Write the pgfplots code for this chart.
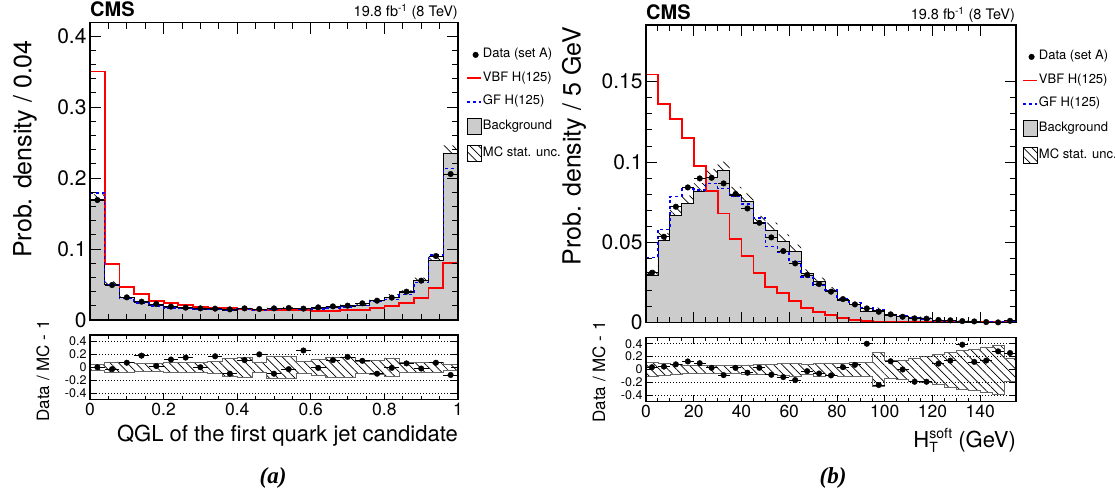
\documentclass[border=0pt]{standalone}
\usepackage{fontspec}
\setmainfont{TeX Gyre Heros}
\newfontfamily\capfont{Liberation Serif}
\usepackage{pgfplots}
\usepackage{pgfplotstable}
\pgfplotsset{compat=1.18}
\usepgfplotslibrary{fillbetween}
\usetikzlibrary{patterns.meta}
\newcommand\fs[1]{\fontsize{#1}{#1}\selectfont}

\pgfplotstableread{
lo bkg data vbf gf err r
0.00 0.170 0.169 0.350 0.179 0.04 0.00
0.04 0.0502 0.0493 0.0784 0.0502 0.084 -0.03
0.08 0.0315 0.0319 0.047 0.031 0.071 0.07
0.12 0.0244 0.0258 0.0362 0.0240 0.063 0.18
0.16 0.0207 0.0225 0.0272 0.0200 0.063 0.02
0.20 0.0178 0.0188 0.0235 0.0172 0.071 0.12
0.24 0.0164 0.0174 0.0207 0.0160 0.076 0.15
0.28 0.0150 0.0164 0.0178 0.0148 0.079 0.00
0.32 0.0150 0.0160 0.0174 0.0150 0.089 0.17
0.36 0.0141 0.0150 0.0164 0.0141 0.14 -0.10
0.40 0.0150 0.0164 0.0155 0.0155 0.15 0.11
0.44 0.0131 0.0155 0.0141 0.0136 0.084 0.20
0.48 0.0150 0.0164 0.0136 0.0150 0.17 -0.10
0.52 0.0155 0.0169 0.0141 0.0160 0.17 -0.03
0.56 0.0141 0.0160 0.0141 0.0150 0.092 0.26
0.60 0.0160 0.0178 0.0127 0.0155 0.13 -0.01
0.64 0.0174 0.0192 0.0131 0.0170 0.16 0.11
0.68 0.0188 0.0202 0.0141 0.0185 0.16 0.16
0.72 0.0211 0.0235 0.0141 0.0205 0.092 0.10
0.76 0.0282 0.0272 0.0174 0.0268 0.105 -0.10
0.80 0.0319 0.0315 0.0197 0.0290 0.145 -0.01
0.84 0.0385 0.0399 0.0235 0.0360 0.084 0.06
0.88 0.0554 0.0554 0.0305 0.0526 0.079 -0.02
0.92 0.0845 0.0901 0.0446 0.0915 0.071 0.07
0.96 0.235 0.2056 0.0808 0.2136 0.047 -0.12
1.00 0.235 0.2056 0.0808 0.2136 0.047 -0.12
}\tabA

\pgfplotstableread{
lo bkg data vbf gf err r
0 0.0297 0.0311 0.1545 0.0407 0.105 0.036
5 0.0512 0.0535 0.1359 0.0581 0.09 0.045
10 0.0670 0.0722 0.1270 0.0784 0.075 0.08
15 0.0743 0.0842 0.1151 0.0832 0.065 0.125
20 0.0819 0.0898 0.0977 0.0826 0.06 0.098
25 0.0904 0.0902 0.0821 0.0867 0.06 0.026
30 0.0946 0.0867 0.0680 0.0836 0.06 -0.087
35 0.0794 0.0801 0.0519 0.0784 0.065 0.026
40 0.0753 0.0711 0.0417 0.0738 0.07 -0.05
45 0.0618 0.0622 0.0311 0.0653 0.075 0.026
50 0.0577 0.0531 0.0224 0.0473 0.08 -0.082
55 0.0504 0.0446 0.0183 0.0436 0.09 -0.118
60 0.0442 0.0369 0.0135 0.0380 0.10 -0.164
65 0.0307 0.0297 0.0093 0.0286 0.08 -0.026
70 0.0255 0.0241 0.0068 0.0234 0.10 -0.062
75 0.0203 0.0193 0.0048 0.0203 0.09 -0.092
80 0.0141 0.0147 0.0027 0.0147 0.10 0.036
85 0.0114 0.0114 0.0017 0.0127 0.11 0.072
90 0.0068 0.0089 0.0010 0.0093 0.11 0.40
95 0.0075 0.0068 0.0008 0.0083 0.26 -0.241
100 0.0048 0.0052 0.0006 0.0052 0.14 0.128
105 0.0037 0.0037 0.0005 0.0041 0.15 0.0
110 0.0033 0.0027 0.0005 0.0033 0.18 -0.19
115 0.0027 0.0025 0.0004 0.0023 0.20 -0.19
120 0.0017 0.0017 0.0004 0.0012 0.23 0.092
125 0.0012 0.0015 0.0003 0.0011 0.27 0.138
130 0.0010 0.0010 0.0003 0.0009 0.30 0.385
135 0.0008 0.0008 0.0003 0.0008 0.32 0.118
140 0.0006 0.0004 0.0002 0.0006 0.35 0.138
145 0.0005 0.0002 0.0002 0.0005 0.38 0.282
150 0.0007 0.0012 0.0002 0.0007 0.18 0.256
155 0.0007 0.0012 0.0002 0.0007 0.18 0.256
}\tabB

\tikzset{hatch/.style={pattern={Lines[angle=-45,distance=6pt,line width=0.7pt]}, pattern color=black, draw=none}}

\pgfplotsset{
 cms/.style={scale only axis, anchor=south west, axis on top,
   axis line style={line width=1.5pt}, every tick/.style={black, line width=0.9pt},
   tick align=inside, major tick length=11pt, minor tick length=6pt,
   scaled ticks=false, clip=true},
 ratio/.style={cms, ymin=-0.5, ymax=0.5, ytick={-0.4,-0.2,0,0.2,0.4},
   yticklabels={-0.4,-0.2,0,0.2,0.4},
   major tick length=7pt, minor tick length=4pt,
   yticklabel style={font=\fs{12.5}}, xticklabel style={font=\fs{17.5}},
   extra y ticks={-0.4,-0.2,0.2,0.4}, extra y tick labels={},
   extra y tick style={grid=major, major tick length=0pt,
     major grid style={black, line width=0.8pt, dash pattern=on 1pt off 2pt}}},
 leg/.style={legend style={draw=none, fill=none, anchor=north west, font=\fs{13},
   row sep=9.5pt, inner sep=0pt, nodes={inner sep=1pt, text height=9pt, text depth=3pt}},
   legend cell align=left},
 lineleg/.style={legend image code/.code={\draw[##1] (0pt,0pt) -- (14pt,0pt);}},
 boxleg/.style={legend image code/.code={\draw[##1] (0pt,-8pt) rectangle (14pt,8pt);}},
}

\begin{document}
\begin{tikzpicture}[x=1pt,y=1pt]

% ---------------- left main ----------------
\begin{axis}[cms, leg, legend style={at={(1.0217,0.916)}},
  at={(90pt,179pt)}, width=368pt, height=297.3pt,
  xmin=0, xmax=1, ymin=0, ymax=0.4187,
  xtick={0,0.2,0.4,0.6,0.8,1}, xticklabels={}, minor x tick num=3,
  ytick={0,0.1,0.2,0.3,0.4}, yticklabels={0,0.1,0.2,0.3,0.4}, minor y tick num=4,
  yticklabel style={font=\fs{21}}]
\addlegendimage{only marks, mark=*, mark size=2.8pt, black}
\addlegendentry{Data (set A)}
\addlegendimage{lineleg, red, line width=1.8pt}
\addlegendentry{VBF H(125)}
\addlegendimage{lineleg, blue, line width=1.5pt, dash pattern=on 3pt off 3pt}
\addlegendentry{GF H(125)}
\addlegendimage{boxleg, fill=black!20, draw=black, line width=0.8pt}
\addlegendentry{Background}
\addlegendimage{boxleg, hatch, draw=black, line width=0.8pt}
\addlegendentry{MC stat. unc.}
\addplot[forget plot, const plot, fill=black!20, draw=black, line width=0.8pt] table[x=lo, y=bkg] {\tabA} \closedcycle;
\addplot[forget plot, const plot, draw=none, name path=au] table[x=lo, y expr=\thisrow{bkg}*(1+\thisrow{err})] {\tabA};
\addplot[forget plot, const plot, draw=none, name path=ad] table[x=lo, y expr=\thisrow{bkg}*(1-\thisrow{err})] {\tabA};
\addplot[forget plot, hatch] fill between[of=au and ad];
\addplot[forget plot, const plot, red, line width=1.8pt] table[x=lo, y=vbf] {\tabA};
\addplot[forget plot, const plot, blue, line width=1.5pt, dash pattern=on 3pt off 3pt] table[x=lo, y=gf] {\tabA};
\addplot[forget plot, only marks, mark=*, mark size=2.8pt, black,
  error bars/.cd, x dir=both, x fixed=0.02, error mark=none, error bar style={line width=0.8pt}]
  table[x expr=\thisrow{lo}+0.02, y=data, skip coords between index={25}{26}] {\tabA};
\end{axis}

% ---------------- left ratio ----------------
\begin{axis}[ratio, at={(90pt,99.5pt)}, width=368pt, height=64.5pt,
  xmin=0, xmax=1, xtick={0,0.2,0.4,0.6,0.8,1}, xticklabels={0,0.2,0.4,0.6,0.8,1}, minor x tick num=3]
\addplot[forget plot, const plot, draw=black!60, line width=0.6pt, name path=ru] table[x=lo, y=err] {\tabA};
\addplot[forget plot, const plot, draw=black!60, line width=0.6pt, name path=rd] table[x=lo, y expr=-\thisrow{err}] {\tabA};
\addplot[forget plot, hatch] fill between[of=ru and rd];
\addplot[forget plot, only marks, mark=*, mark size=2.8pt, black,
  error bars/.cd, x dir=both, x fixed=0.02, error mark=none, error bar style={line width=0.8pt}]
  table[x expr=\thisrow{lo}+0.02, y=r, skip coords between index={25}{26}] {\tabA};
\end{axis}

% ---------------- right main ----------------
\begin{axis}[cms, leg, legend style={at={(1.016,0.917)}},
  at={(646pt,176.3pt)}, width=370pt, height=297.7pt,
  xmin=0, xmax=155, ymin=0, ymax=0.1853,
  xtick={0,20,40,60,80,100,120,140}, xticklabels={}, minor x tick num=3,
  ytick={0,0.05,0.1,0.15}, yticklabels={0,0.05,0.1,0.15}, minor y tick num=4,
  yticklabel style={font=\fs{21}}]
\addlegendimage{only marks, mark=*, mark size=2.8pt, black}
\addlegendentry{Data (set A)}
\addlegendimage{lineleg, red, line width=1.8pt}
\addlegendentry{VBF H(125)}
\addlegendimage{lineleg, blue, line width=1.5pt, dash pattern=on 3pt off 3pt}
\addlegendentry{GF H(125)}
\addlegendimage{boxleg, fill=black!20, draw=black, line width=0.8pt}
\addlegendentry{Background}
\addlegendimage{boxleg, hatch, draw=black, line width=0.8pt}
\addlegendentry{MC stat. unc.}
\addplot[forget plot, const plot, fill=black!20, draw=black, line width=0.8pt] table[x=lo, y=bkg] {\tabB} \closedcycle;
\addplot[forget plot, const plot, draw=none, name path=bu] table[x=lo, y expr=\thisrow{bkg}*(1+\thisrow{err})] {\tabB};
\addplot[forget plot, const plot, draw=none, name path=bd] table[x=lo, y expr=\thisrow{bkg}*(1-\thisrow{err})] {\tabB};
\addplot[forget plot, hatch] fill between[of=bu and bd];
\addplot[forget plot, const plot, red, line width=1.8pt] table[x=lo, y=vbf] {\tabB};
\addplot[forget plot, const plot, blue, line width=1.5pt, dash pattern=on 3pt off 3pt] table[x=lo, y=gf] {\tabB};
\addplot[forget plot, only marks, mark=*, mark size=2.8pt, black,
  error bars/.cd, x dir=both, x fixed=2.5, error mark=none, error bar style={line width=0.8pt}]
  table[x expr=\thisrow{lo}+2.5, y=data, skip coords between index={31}{32}] {\tabB};
\end{axis}

% ---------------- right ratio ----------------
\begin{axis}[ratio, at={(646pt,97.3pt)}, width=370pt, height=64.4pt,
  xmin=0, xmax=155, xtick={0,20,40,60,80,100,120,140},
  xticklabels={0,20,40,60,80,100,120,140}, minor x tick num=3]
\addplot[forget plot, const plot, draw=black!60, line width=0.6pt, name path=su] table[x=lo, y=err] {\tabB};
\addplot[forget plot, const plot, draw=black!60, line width=0.6pt, name path=sd] table[x=lo, y expr=-\thisrow{err}] {\tabB};
\addplot[forget plot, hatch] fill between[of=su and sd];
\addplot[forget plot, only marks, mark=*, mark size=2.8pt, black,
  error bars/.cd, x dir=both, x fixed=2.5, error mark=none, error bar style={line width=0.8pt}]
  table[x expr=\thisrow{lo}+2.5, y=r, skip coords between index={31}{32}] {\tabB};
\end{axis}

% ---------------- texts ----------------
\node[anchor=base west, inner sep=0pt, font=\fs{20}\bfseries] at (90,482) {CMS};
\node[anchor=base east, inner sep=0pt, font=\fs{14.5}] at (458,482) {19.8 fb\textsuperscript{-1} (8 TeV)};
\node[anchor=base west, inner sep=0pt, font=\fs{20}\bfseries] at (646,479.5) {CMS};
\node[anchor=base east, inner sep=0pt, font=\fs{14.5}] at (1015,479.5) {19.8 fb\textsuperscript{-1} (8 TeV)};

\node[rotate=90, anchor=east, inner sep=0pt, font=\fs{25}] at (25,459) {Prob. density / 0.04};
\node[rotate=90, anchor=east, inner sep=0pt, font=\fs{25}] at (574,472) {Prob. density / 5 GeV};
\node[rotate=90, inner sep=0pt, font=\fs{17}] at (43,128) {Data / MC - 1};
\node[rotate=90, inner sep=0pt, font=\fs{17}] at (599,127) {Data / MC - 1};

\node[anchor=base east, inner sep=0pt, font=\fs{22}] at (458,58) {QGL of the first quark jet candidate};
\node[anchor=base east, inner sep=0pt, font=\fs{22}] at (1016,52)
  {H\rlap{\raisebox{-5pt}{\fs{14}T}}\raisebox{9pt}{\fs{14}soft} (GeV)};

\node[inner sep=0pt, font=\fs{23}\capfont\bfseries\itshape] at (273,21) {(a)};
\node[inner sep=0pt, font=\fs{23}\capfont\bfseries\itshape] at (833,21) {(b)};

\pgfresetboundingbox
\useasboundingbox (0,0) rectangle (1115,499);
\end{tikzpicture}
\end{document}
